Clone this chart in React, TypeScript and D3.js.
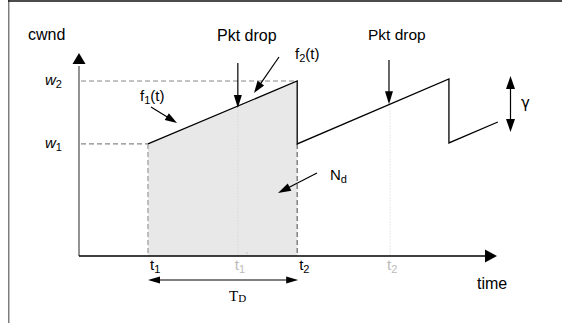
import React from "react";
import * as d3 from "d3";

// time domain units / cwnd units
const timeTicks = [
  { key: "t1", t: 16.5, label: "t", sub: "1", faint: false, prime: false },
  { key: "t1p", t: 38.0, label: "t", sub: "1", faint: true, prime: true },
  { key: "t2", t: 52.2, label: "t", sub: "2", faint: false, prime: false },
  { key: "t2p", t: 74.4, label: "t", sub: "2", faint: true, prime: false },
];
const windowLevels = [
  { key: "w2", w: 86.2, sub: "2", toT: 52.2 },
  { key: "w1", w: 55.2, sub: "1", toT: 16.5 },
];
const sawtooth = [
  { t: 16.5, w: 55.2 },
  { t: 52.2, w: 86.2 },
  { t: 52.2, w: 55.2 },
  { t: 88.5, w: 87.2 },
  { t: 88.5, w: 55.7 },
  { t: 100.2, w: 66.0 },
];
const shaded = [
  { t: 16.5, w: 55.2 },
  { t: 52.2, w: 86.2 },
  { t: 52.2, w: 0 },
  { t: 16.5, w: 0 },
];

const W = 562;
const H = 323;
const x = d3.scaleLinear().domain([0, 100]).range([79, 497]);
const y = d3.scaleLinear().domain([0, 100]).range([256, 53]);

function lineY(t: number, a: { t: number; w: number }, b: { t: number; w: number }) {
  return a.w + ((t - a.t) * (b.w - a.w)) / (b.t - a.t);
}

function Arrow({ x1, y1, x2, y2, len = 13, wid = 8, color = "#000", sw = 1.2, both = false }: any) {
  const ang = Math.atan2(y2 - y1, x2 - x1);
  const head = (tx: number, ty: number, a: number) => {
    const bx = tx - len * Math.cos(a);
    const by = ty - len * Math.sin(a);
    const px = (wid / 2) * Math.sin(a);
    const py = (-wid / 2) * Math.cos(a);
    return `${tx},${ty} ${bx + px},${by + py} ${bx - px},${by - py}`;
  };
  const sx = both ? x1 + (len - 2) * Math.cos(ang) : x1;
  const sy = both ? y1 + (len - 2) * Math.sin(ang) : y1;
  const ex = x2 - (len - 2) * Math.cos(ang);
  const ey = y2 - (len - 2) * Math.sin(ang);
  return (
    <g>
      <line x1={sx} y1={sy} x2={ex} y2={ey} stroke={color} strokeWidth={sw} />
      <polygon points={head(x2, y2, ang)} fill={color} />
      {both && <polygon points={head(x1, y1, ang + Math.PI)} fill={color} />}
    </g>
  );
}

export default function App() {
  const font = "'Liberation Sans', Arial, sans-serif";
  const line = d3
    .line<{ t: number; w: number }>()
    .x((d) => x(d.t))
    .y((d) => y(d.w));
  const seg1a = sawtooth[0];
  const seg1b = sawtooth[1];
  const seg2a = sawtooth[2];
  const seg2b = sawtooth[3];
  const pkt1T = 38.0;
  const pkt2T = 74.4;
  const pkt1Y = y(lineY(pkt1T, seg1a, seg1b));
  const pkt2Y = y(lineY(pkt2T, seg2a, seg2b));
  return (
    <div style={{ width: W, height: H, overflow: "hidden" }}>
      <style>{`html,body{margin:0;padding:0;overflow:hidden;background:#fff}`}</style>
      <svg width={W} height={H} style={{ display: "block", fontFamily: font }}>
        <rect x={0} y={0} width={W} height={H} fill="#fff" />
        {/* frame */}
        <line x1={8.75} y1={0} x2={8.75} y2={H} stroke="#777" strokeWidth={1.4} />
        <line x1={8} y1={1} x2={W} y2={1} stroke="#111" strokeWidth={1.3} />

        {/* shaded area */}
        <path d={line(shaded)! + "Z"} fill="#e8e8e8" />

        {/* faint dotted verticals */}
        <line x1={x(pkt1T)} y1={pkt1Y} x2={x(pkt1T)} y2={y(0)} stroke="#d8d8d8" strokeWidth={1} strokeDasharray="1.5,1.5" />
        <line x1={x(pkt2T)} y1={pkt2Y} x2={x(pkt2T)} y2={y(0)} stroke="#e0e0e0" strokeWidth={1} strokeDasharray="1.5,1.5" />

        {/* level dashed lines */}
        {windowLevels.map((l) => (
          <g key={l.key}>
            <line x1={x(0) + 2} y1={y(l.w)} x2={x(l.toT)} y2={y(l.w)} stroke="#888" strokeWidth={1.2} strokeDasharray="5,3" />
            <text x={45} y={y(l.w) + 4} fontSize={15} fontStyle="italic" fill="#000">
              w<tspan fontSize={11} fontStyle="normal" dy={3}>{l.sub}</tspan>
            </text>
          </g>
        ))}

        {/* vertical dashed at t1, t2 */}
        <line x1={x(16.5)} y1={y(55.2)} x2={x(16.5)} y2={y(0)} stroke="#999" strokeWidth={1.2} strokeDasharray="5,3" />
        <line x1={x(52.2)} y1={y(55.2)} x2={x(52.2)} y2={y(0)} stroke="#666" strokeWidth={1.2} strokeDasharray="5,3" />

        {/* sawtooth */}
        <path d={line(sawtooth)!} fill="none" stroke="#000" strokeWidth={1.3} />

        {/* axes */}
        <line x1={x(0)} y1={y(0)} x2={x(0)} y2={y(0) - 190} stroke="#777" strokeWidth={1.6} />
        <polygon points={`${x(0)},${y(100)} ${x(0) - 6.5},${y(100) + 11} ${x(0) + 6.5},${y(100) + 11}`} fill="#000" />
        <line x1={x(0)} y1={y(0)} x2={x(100) - 10} y2={y(0)} stroke="#000" strokeWidth={1.4} />
        <polygon points={`${x(100)},${y(0)} ${x(100) - 12},${y(0) - 6.5} ${x(100) - 12},${y(0) + 6.5}`} fill="#000" />

        <text x={28} y={39.5} fontSize={16} fill="#000">cwnd</text>
        <text x={477} y={289} fontSize={16} fill="#000">time</text>

        {/* time labels */}
        {timeTicks.map((tk) => (
          <text key={tk.key} x={x(tk.t) + (tk.faint ? -3 : 2)} y={270} fontSize={15} fill={tk.faint ? "#bbb" : "#000"}>
            {tk.label}
            <tspan fontSize={11} dy={3}>{tk.sub}</tspan>
            {tk.prime && <tspan fontSize={11} dy={-12}>`</tspan>}
          </text>
        ))}

        {/* T_D */}
        <Arrow x1={x(16.5)} y1={280} x2={x(52.2) + 1} y2={280} len={12} wid={7} both sw={1.2} />
        <text x={229} y={301} fontSize={15} fontFamily="'Liberation Serif', 'Times New Roman', serif" fill="#000">
          T<tspan fontSize={11} dy={1}>D</tspan>
        </text>

        {/* f1(t) */}
        <text x={140} y={101} fontSize={15} fill="#000">
          f<tspan fontSize={11} dy={3}>1</tspan><tspan dy={-3}>(t)</tspan>
        </text>
        <Arrow x1={151} y1={107} x2={177} y2={123} len={12} wid={8} />

        {/* Pkt drop 1 */}
        <text x={217} y={41} fontSize={16} fill="#000">Pkt drop</text>
        <Arrow x1={x(pkt1T)} y1={63} x2={x(pkt1T)} y2={pkt1Y + 2} len={13} wid={8} />

        {/* f2(t) */}
        <text x={295} y={59} fontSize={15} fill="#000">
          f<tspan fontSize={11} dy={3}>2</tspan><tspan dy={-3}>(t)</tspan>
        </text>
        <Arrow x1={279} y1={57} x2={254} y2={93} len={12} wid={8} />

        {/* Pkt drop 2 */}
        <text x={368} y={40} fontSize={15.5} fill="#000">Pkt drop</text>
        <Arrow x1={x(pkt2T) - 1} y1={60} x2={x(pkt2T) - 1} y2={pkt2Y} len={13} wid={8} />

        {/* gamma */}
        <Arrow x1={510.5} y1={76} x2={510.5} y2={132} len={13} wid={9} both />
        <text x={521} y={108} fontSize={15} fontFamily="'DejaVu Sans', sans-serif" fill="#000">γ</text>

        {/* N_d */}
        <text x={330} y={180} fontSize={15} fill="#000">
          N<tspan fontSize={11} dy={3}>d</tspan>
        </text>
        <Arrow x1={317} y1={173} x2={278} y2={193} len={13} wid={8} />
      </svg>
    </div>
  );
}
